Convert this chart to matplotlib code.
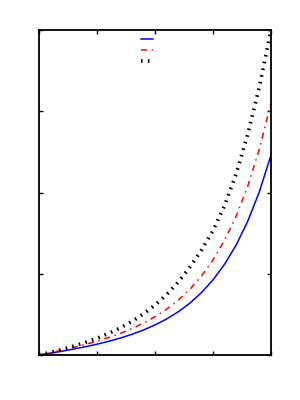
import matplotlib

matplotlib.use("Agg")
import matplotlib.pyplot as plt

# values (x normalised 0..1, y 0..4)
x = [0.0, 0.05, 0.1, 0.15, 0.2, 0.25, 0.3, 0.35, 0.4, 0.45, 0.5,
     0.55, 0.6, 0.65, 0.7, 0.75, 0.8, 0.85, 0.9, 0.95, 1.0]
blue = [0.0, 0.023, 0.047, 0.073, 0.102, 0.133, 0.168, 0.208, 0.254, 0.307, 0.37,
        0.443, 0.532, 0.637, 0.767, 0.924, 1.117, 1.354, 1.648, 2.01, 2.46]
red = [0.0, 0.029, 0.060, 0.093, 0.130, 0.170, 0.215, 0.265, 0.324, 0.391, 0.47,
       0.563, 0.674, 0.808, 0.971, 1.169, 1.412, 1.71, 2.079, 2.536, 3.10]
black = [0.0, 0.033, 0.069, 0.110, 0.155, 0.207, 0.266, 0.333, 0.412, 0.505, 0.614,
         0.743, 0.896, 1.080, 1.290, 1.530, 1.840, 2.230, 2.720, 3.300, 4.0]
x_ticks = [0.0, 0.25, 0.5, 0.75, 1.0]
y_ticks = [0, 1, 2, 3, 4]

fig = plt.figure(figsize=(3, 4), dpi=100)
fig.patch.set_facecolor("white")
ax = fig.add_axes([0.13, 0.1125, 0.7733, 0.8125])

ax.plot(x, blue, color="#0000ff", linewidth=1.1, label=" ")
ax.plot(x, red, color="#ff0000", linewidth=1.1, linestyle=(0, (4, 3, 1, 3)), label=" ")
ax.plot(x, black, color="black", linewidth=2.6, linestyle=(0, (0.45, 1.45)),
        dash_capstyle="butt", label=" ")

ax.set_xlim(0, 1)
ax.set_ylim(0, 4)
ax.set_xticks(x_ticks)
ax.set_yticks(y_ticks)
ax.set_xticklabels([])
ax.set_yticklabels([])
ax.tick_params(direction="in", length=3, width=1, top=True, right=True, colors="black")
for spine in ax.spines.values():
    spine.set_linewidth(1.3)
    spine.set_color("black")

ax.legend(loc="upper center", bbox_to_anchor=(0.475, 1.0), frameon=False,
          fontsize=6.5, handlelength=1.3, labelspacing=0.25, handletextpad=0.2,
          borderaxespad=0.15)

fig.savefig("out.png", dpi=100, facecolor="white")
